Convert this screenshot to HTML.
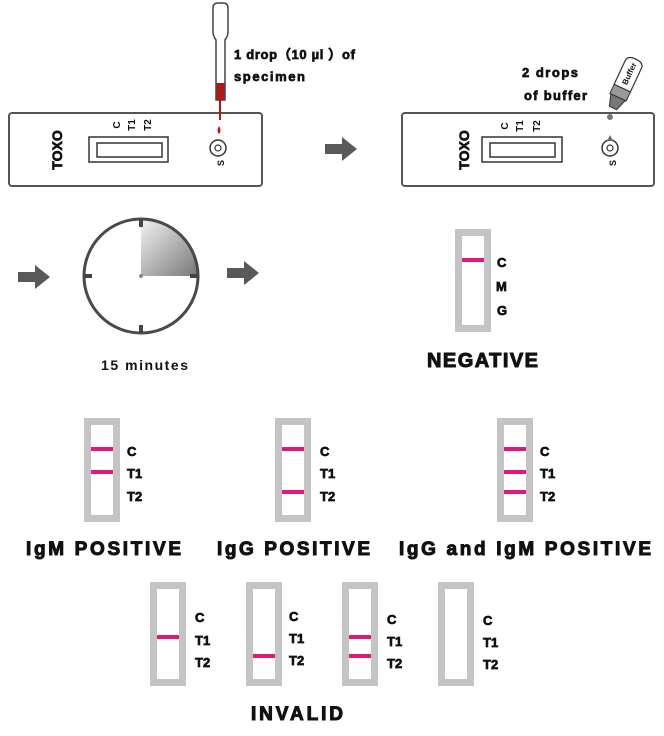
<!DOCTYPE html>
<html><head><meta charset="utf-8"><style>
html,body{margin:0;padding:0;background:#fff;}
svg{display:block;}
text{font-family:"Liberation Sans",Arial,sans-serif;font-weight:bold;fill:#111;}
.t{stroke:#111;stroke-width:0.7;}
.h{stroke:#111;stroke-width:1;}
</style></head><body>
<svg width="664" height="736" viewBox="0 0 664 736" xmlns="http://www.w3.org/2000/svg">
<defs>
<linearGradient id="g" x1="0" y1="0" x2="1" y2="1"><stop offset="0" stop-color="#f2f2f2"/><stop offset="1" stop-color="#777"/></linearGradient>
<g id="arrow"><path d="M0 7 H17 V0 L32 12 L17 24 V17 H0 Z" fill="#5a5858"/></g>
</defs>

<rect x="9" y="113" width="253" height="73" rx="3" fill="#fff" stroke="#555" stroke-width="2"/>
<rect x="89" y="137" width="79" height="25" fill="none" stroke="#333" stroke-width="1.5"/>
<rect x="97" y="143" width="65" height="14" fill="none" stroke="#333" stroke-width="1.5"/>
<text class="t" transform="translate(62,150) rotate(-90)" text-anchor="middle" font-size="14">TOXO</text>
<text transform="translate(120,125) rotate(-90)" text-anchor="middle" font-size="10">C</text>
<text transform="translate(135,125) rotate(-90)" text-anchor="middle" font-size="10">T1</text>
<text transform="translate(151,125) rotate(-90)" text-anchor="middle" font-size="10">T2</text>
<circle cx="218" cy="148" r="8" fill="none" stroke="#333" stroke-width="1.5"/>
<circle cx="218" cy="148" r="3" fill="none" stroke="#333" stroke-width="1.2"/>
<text transform="translate(224,163) rotate(-90)" text-anchor="middle" font-size="9">S</text>
<path d="M213 8 Q213 3 218 3 H223 Q228 3 228 8 V32 Q228 36 225 40 V100 H216 V40 Q213 36 213 32 Z" fill="#fff" stroke="#444" stroke-width="1.5"/>
<rect x="216.5" y="83" width="8" height="17" fill="#b01818"/>
<line x1="220" y1="100" x2="220" y2="120" stroke="#b01818" stroke-width="2"/>
<path d="M219 126 Q216 131 219 134 Q222 131 219 126Z" fill="#c01818"/>
<text class="t" x="234" y="59" font-size="13" textLength="121" lengthAdjust="spacing">1 drop（10 µl ）of</text>
<text class="t" x="234" y="81" font-size="13" textLength="71" lengthAdjust="spacing">specimen</text>

<use href="#arrow" x="325" y="137"/>

<rect x="402" y="113" width="252" height="73" rx="3" fill="#fff" stroke="#555" stroke-width="2"/>
<rect x="482" y="137" width="80" height="25" fill="none" stroke="#333" stroke-width="1.5"/>
<rect x="490" y="143" width="65" height="14" fill="none" stroke="#333" stroke-width="1.5"/>
<text class="t" transform="translate(469,150) rotate(-90)" text-anchor="middle" font-size="14">TOXO</text>
<text transform="translate(508,126) rotate(-90)" text-anchor="middle" font-size="10">C</text>
<text transform="translate(523,126) rotate(-90)" text-anchor="middle" font-size="10">T1</text>
<text transform="translate(540,126) rotate(-90)" text-anchor="middle" font-size="10">T2</text>
<circle cx="610" cy="148" r="8" fill="none" stroke="#333" stroke-width="1.5"/>
<circle cx="610" cy="148" r="3" fill="none" stroke="#333" stroke-width="1.2"/>
<path d="M610 135 L607 141 H613 Z" fill="#666"/>
<text transform="translate(616,163) rotate(-90)" text-anchor="middle" font-size="9">S</text>
<circle cx="610" cy="117" r="3" fill="#777"/>
<g transform="translate(613,108) rotate(25)">
<path d="M-4 0 H4 L8 -12 H-8 Z" fill="#777" stroke="#333" stroke-width="1"/>
<rect x="-9" y="-22" width="18" height="10" fill="#999" stroke="#333" stroke-width="1"/>
<path d="M-9 -22 V-48 Q-9 -54 0 -54 Q9 -54 9 -48 V-22 Z" fill="#fff" stroke="#333" stroke-width="1.2"/>
<text transform="translate(3,-38) rotate(-90)" text-anchor="middle" font-size="8">Buffer</text>
</g>
<text class="t" x="522" y="77" font-size="13" textLength="56" lengthAdjust="spacing">2 drops</text>
<text class="t" x="524" y="100" font-size="13" textLength="63" lengthAdjust="spacing">of buffer</text>

<use href="#arrow" x="18" y="265"/>
<path d="M141 219 A57 57 0 0 1 198 276 L141 276 Z" fill="url(#g)"/>
<circle cx="141" cy="276" r="57" fill="none" stroke="#4a4848" stroke-width="3"/>
<rect x="139" y="219" width="4" height="8" fill="#444"/>
<rect x="139" y="325" width="4" height="8" fill="#444"/>
<rect x="84" y="274" width="8" height="4" fill="#444"/>
<rect x="190" y="274" width="8" height="4" fill="#444"/>
<circle cx="141" cy="276" r="2" fill="#888"/>
<use href="#arrow" x="227" y="261"/>
<text x="101" y="370" font-size="14" textLength="87" lengthAdjust="spacing">15 minutes</text>

<rect x="458.5" y="232.5" width="29" height="96" fill="none" stroke="#c4c4c4" stroke-width="7"/>
<rect x="462" y="258" width="22" height="4" fill="#e0187a"/>
<text class="t" x="497" y="267" font-size="13">C</text>
<text class="t" x="496" y="291" font-size="13">M</text>
<text class="t" x="497" y="315" font-size="13">G</text>
<text class="h" x="427" y="367" font-size="20" textLength="111" lengthAdjust="spacing">NEGATIVE</text>

<rect x="87.5" y="421.5" width="29" height="97" fill="none" stroke="#c4c4c4" stroke-width="7"/>
<rect x="91" y="447" width="22" height="4" fill="#e0187a"/>
<rect x="91" y="470" width="22" height="4" fill="#e0187a"/>
<text class="t" x="127" y="456" font-size="13">C</text><text class="t" x="127" y="478" font-size="13">T1</text><text class="t" x="127" y="501" font-size="13">T2</text>

<rect x="278.5" y="421.5" width="29" height="97" fill="none" stroke="#c4c4c4" stroke-width="7"/>
<rect x="282" y="447" width="22" height="4" fill="#e0187a"/>
<rect x="282" y="490" width="22" height="4" fill="#e0187a"/>
<text class="t" x="320" y="456" font-size="13">C</text><text class="t" x="320" y="478" font-size="13">T1</text><text class="t" x="320" y="501" font-size="13">T2</text>

<rect x="500.5" y="421.5" width="29" height="97" fill="none" stroke="#c4c4c4" stroke-width="7"/>
<rect x="504" y="447" width="22" height="4" fill="#e0187a"/>
<rect x="504" y="470" width="22" height="4" fill="#e0187a"/>
<rect x="504" y="490" width="22" height="4" fill="#e0187a"/>
<text class="t" x="540" y="456" font-size="13">C</text><text class="t" x="540" y="478" font-size="13">T1</text><text class="t" x="540" y="501" font-size="13">T2</text>

<text class="h" x="26" y="555" font-size="19" textLength="155" lengthAdjust="spacing">IgM POSITIVE</text>
<text class="h" x="217" y="555" font-size="19" textLength="153" lengthAdjust="spacing">IgG POSITIVE</text>
<text class="h" x="399" y="555" font-size="19" textLength="252" lengthAdjust="spacing">IgG and IgM POSITIVE</text>

<rect x="153.5" y="585.5" width="29" height="97" fill="none" stroke="#c4c4c4" stroke-width="7"/>
<rect x="157" y="635" width="22" height="4" fill="#e0187a"/>
<text class="t" x="195" y="622" font-size="13">C</text><text class="t" x="195" y="645" font-size="13">T1</text><text class="t" x="195" y="667" font-size="13">T2</text>

<rect x="249.5" y="585.5" width="29" height="97" fill="none" stroke="#c4c4c4" stroke-width="7"/>
<rect x="253" y="654" width="22" height="4" fill="#e0187a"/>
<text class="t" x="289" y="621" font-size="13">C</text><text class="t" x="289" y="643" font-size="13">T1</text><text class="t" x="289" y="665" font-size="13">T2</text>

<rect x="345.5" y="585.5" width="29" height="97" fill="none" stroke="#c4c4c4" stroke-width="7"/>
<rect x="349" y="635" width="22" height="4" fill="#e0187a"/>
<rect x="349" y="654" width="22" height="4" fill="#e0187a"/>
<text class="t" x="387" y="624" font-size="13">C</text><text class="t" x="387" y="646" font-size="13">T1</text><text class="t" x="387" y="668" font-size="13">T2</text>

<rect x="441.5" y="585.5" width="29" height="97" fill="none" stroke="#c4c4c4" stroke-width="7"/>
<text class="t" x="483" y="625" font-size="13">C</text><text class="t" x="483" y="647" font-size="13">T1</text><text class="t" x="483" y="669" font-size="13">T2</text>

<text class="h" x="251" y="720" font-size="19" textLength="92" lengthAdjust="spacing">INVALID</text>
</svg>
</body></html>
